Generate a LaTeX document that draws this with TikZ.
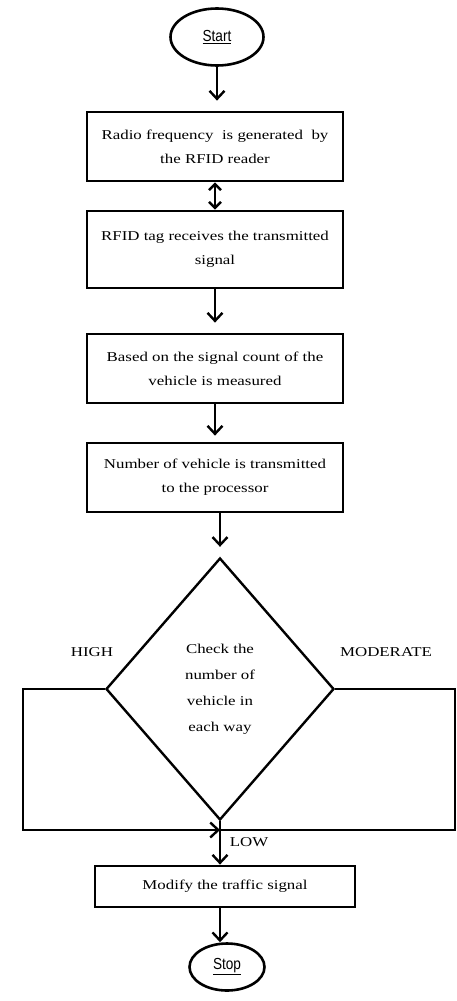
\documentclass[tikz,border=0pt]{standalone}
\usepackage{fontspec}
\setmainfont{Liberation Serif}[FakeStretch=1.25]
\newfontfamily\termfont{Liberation Sans}[FakeStretch=0.85]
\usetikzlibrary{shapes.geometric,arrows.meta}
\begin{document}
\begin{tikzpicture}[x=1pt,y=-1pt,
  box/.style={draw,line width=2.8pt,rectangle,inner sep=0pt,align=center,font=\fontsize{13.5}{24}\selectfont},
  term/.style={draw,ellipse,line width=2.6pt,inner sep=0pt,font=\termfont\fontsize{16}{18}\selectfont},
  dec/.style={draw,diamond,line width=2.4pt,inner sep=0pt,align=center,font=\fontsize{13.5}{26}\selectfont},
  arr/.style={line width=2.4pt,-{Straight Barb[length=8pt,width=15pt]}},
  dbl/.style={line width=2.4pt,{Straight Barb[length=6pt,width=12pt]}-{Straight Barb[length=6pt,width=12pt]}},
  conn/.style={line width=2.4pt},
  lbl/.style={font=\fontsize{13.5}{16}\selectfont,inner sep=0pt},
]
\useasboundingbox (0,0) rectangle (457,1001);
\node[term,minimum width=93pt,minimum height=57pt] (start) at (217,37) {\underline{Start}};
\node[box,minimum width=256pt,minimum height=69pt] (b1) at (215,146.5) {Radio frequency\ \ is generated\ \ by\\the RFID reader};
\node[box,minimum width=256pt,minimum height=77pt] (b2) at (215,249.5) {RFID tag receives the transmitted\\signal};
\node[box,minimum width=256pt,minimum height=69pt] (b3) at (215,368.5) {Based on the signal count of the\\vehicle is measured};
\node[box,minimum width=256pt,minimum height=69pt] (b4) at (215,477.5) {Number of vehicle is transmitted\\to the processor};
\node[dec,minimum width=228pt,minimum height=262pt] (d) at (220,689) {Check the\\number of\\vehicle in\\each way};
\node[box,minimum width=260pt,minimum height=41pt] (b5) at (225,886.5) {Modify the traffic signal};
\node[term,minimum width=75pt,minimum height=47pt] (stop) at (227,967) {\underline{Stop}};
\node[lbl] (high) at (92,652) {HIGH};
\node[lbl] (mod) at (386,652) {MODERATE};
\node[lbl] (low) at (249,842) {LOW};
\coordinate (lc) at (23,830);
\coordinate (rc) at (455,830);
\coordinate (j) at (220,830);
\draw[arr,shorten >=10pt] (start) -- (start |- b1.north);
\draw[dbl] (b1) -- (b2);
\draw[arr,shorten >=10pt] (b2) -- (b3);
\draw[arr,shorten >=6pt] (b3) -- (b4);
\draw[arr,shorten >=10pt] (b4.south -| d.north) -- (d.north);
\draw[arr] (d.west) -| (lc) -- (j);
\draw[conn] (d.east) -| (rc) -- (j);
\draw[arr] (d.south) -- (d.south |- b5.north);
\draw[arr] (b5.south -| d.south) -- (d.south |- stop.north);
\end{tikzpicture}
\end{document}
